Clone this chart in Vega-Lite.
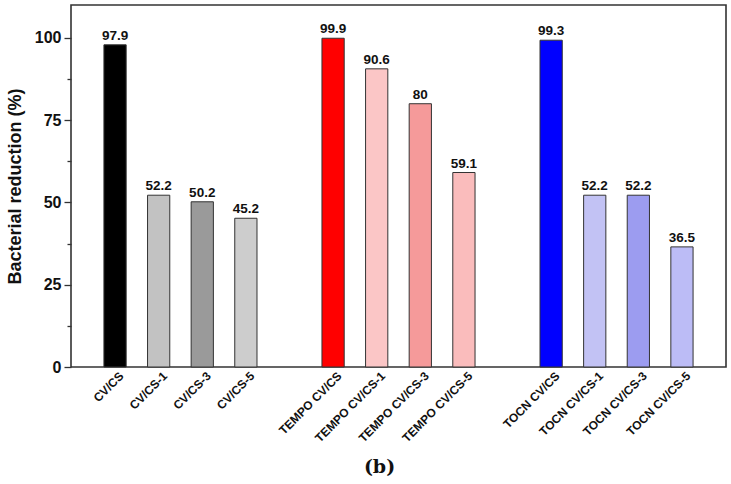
{
  "$schema": "https://vega.github.io/schema/vega-lite/v6.json",
  "width": 655,
  "height": 362,
  "padding": {"left": 6, "top": 5, "right": 5, "bottom": 0},
  "background": "white",
  "config": {
    "font": "Liberation Sans",
    "view": {"stroke": "#333333", "strokeWidth": 1.6},
    "axis": {"labelFont": "Liberation Sans", "titleFont": "Liberation Sans", "labelColor": "#111", "titleColor": "#111"}
  },
  "title": {
    "text": "(b)",
    "orient": "bottom",
    "anchor": "middle",
    "frame": "group",
    "dx": -19,
    "offset": 14,
    "font": "DejaVu Serif",
    "fontSize": 19,
    "fontWeight": "bold",
    "color": "#111"
  },
  "data": {
    "values": [
      {"sample": "CV/CS", "value": 97.9},
      {"sample": "CV/CS-1", "value": 52.2},
      {"sample": "CV/CS-3", "value": 50.2},
      {"sample": "CV/CS-5", "value": 45.2},
      {"sample": "TEMPO CV/CS", "value": 99.9},
      {"sample": "TEMPO CV/CS-1", "value": 90.6},
      {"sample": "TEMPO CV/CS-3", "value": 80},
      {"sample": "TEMPO CV/CS-5", "value": 59.1},
      {"sample": "TOCN CV/CS", "value": 99.3},
      {"sample": "TOCN CV/CS-1", "value": 52.2},
      {"sample": "TOCN CV/CS-3", "value": 52.2},
      {"sample": "TOCN CV/CS-5", "value": 36.5}
    ]
  },
  "encoding": {
    "x": {
      "field": "sample",
      "type": "nominal",
      "sort": null,
      "scale": {
        "domain": ["CV/CS", "CV/CS-1", "CV/CS-3", "CV/CS-5", "gap1", "TEMPO CV/CS", "TEMPO CV/CS-1", "TEMPO CV/CS-3", "TEMPO CV/CS-5", "gap2", "TOCN CV/CS", "TOCN CV/CS-1", "TOCN CV/CS-3", "TOCN CV/CS-5"],
        "paddingInner": 0.49,
        "paddingOuter": 0.755
      },
      "axis": {
        "title": null,
        "labelAngle": -45,
        "labelFontSize": 12,
        "labelFontWeight": "bold",
        "labelPadding": 3,
        "labelOffset": 3,
        "ticks": false,
        "domain": false,
        "labelExpr": "indexof(datum.value, 'gap') == 0 ? '' : datum.value"
      }
    }
  },
  "layer": [
    {
      "mark": {"type": "bar", "stroke": "#333333", "strokeWidth": 1},
      "encoding": {
        "y": {
          "field": "value",
          "type": "quantitative",
          "scale": {"domain": [0, 110], "nice": false},
          "axis": {
            "orient": "left",
            "values": [0, 25, 50, 75, 100],
            "title": "Bacterial reduction (%)",
            "titleFontSize": 18,
            "titleFontWeight": "bold",
            "titleX": -56,
            "titleY": 181,
            "titleAngle": -90,
            "titleAlign": "center",
            "titleBaseline": "middle",
            "labelFontSize": 16,
            "labelFontWeight": "bold",
            "labelPadding": 3,
            "tickSize": 7,
            "tickWidth": 1.3,
            "tickColor": "#333",
            "domain": false,
            "grid": false
          }
        },
        "color": {
          "field": "sample",
          "type": "nominal",
          "legend": null,
          "scale": {
            "domain": ["CV/CS", "CV/CS-1", "CV/CS-3", "CV/CS-5", "TEMPO CV/CS", "TEMPO CV/CS-1", "TEMPO CV/CS-3", "TEMPO CV/CS-5", "TOCN CV/CS", "TOCN CV/CS-1", "TOCN CV/CS-3", "TOCN CV/CS-5"],
            "range": ["#000000", "#c2c2c2", "#9a9a9a", "#cdcdcd", "#ff0000", "#fbc6c6", "#f59a9a", "#fabcbc", "#0000ff", "#c2c2f4", "#9c9cf0", "#bcbcf6"]
          }
        }
      }
    },
    {
      "mark": {"type": "text", "baseline": "bottom", "dy": -2, "fontSize": 13.5, "fontWeight": "bold", "color": "#111"},
      "encoding": {
        "y": {
          "field": "value",
          "type": "quantitative",
          "scale": {"domain": [0, 110], "nice": false},
          "axis": {
            "orient": "left",
            "values": [12.5, 37.5, 62.5, 87.5],
            "labels": false,
            "title": null,
            "tickSize": 4,
            "tickWidth": 1.3,
            "tickColor": "#333",
            "domain": false,
            "grid": false
          }
        },
        "text": {"field": "value", "type": "quantitative"}
      }
    }
  ],
  "resolve": {"axis": {"y": "independent"}}
}
